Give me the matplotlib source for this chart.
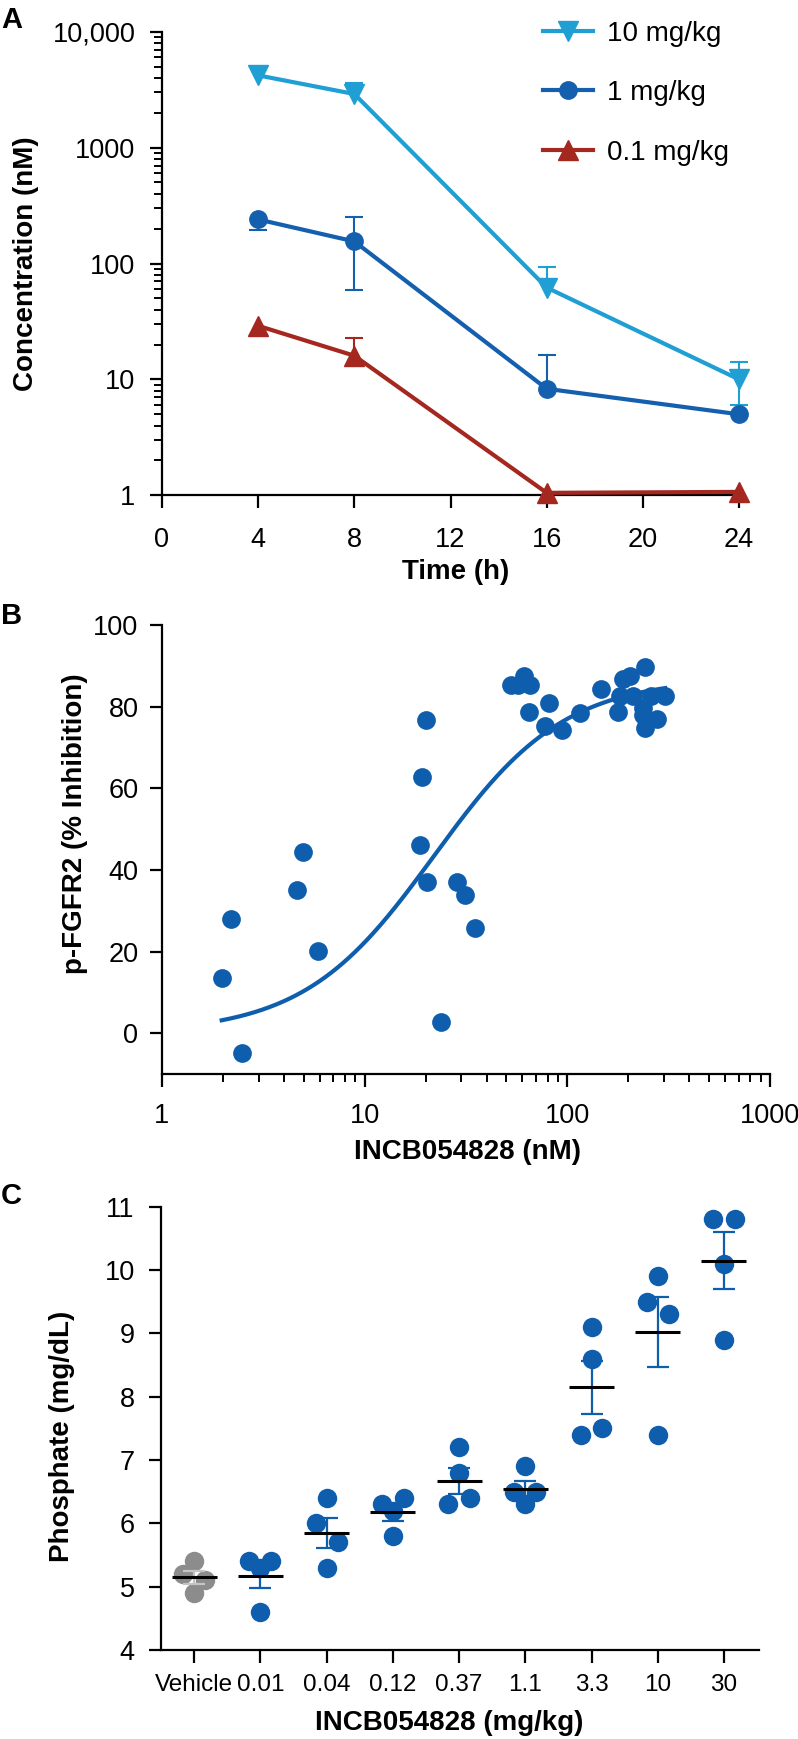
import numpy as np
import matplotlib.pyplot as plt
from matplotlib.ticker import FixedLocator, LogLocator, NullFormatter

plt.rcParams['font.family'] = ['Liberation Sans', 'DejaVu Sans']

# ---------------- data ----------------
# panel A : plasma concentration (nM) vs time
time_h = [4, 8, 16, 24]
conc_10 = [4200, 2900, 62, 10]
conc_10_hi = [0, 700, 31, 4]
conc_10_lo = [0, 0, 0, 4]
conc_1 = [240, 155, 8.3, 5.0]
conc_1_hi = [0, 98, 7.9, 0]
conc_1_lo = [44, 96, 0, 0]
conc_01 = [29, 16, 1.05, 1.07]
conc_01_hi = [0, 6.6, 0, 0]
conc_01_lo = [0, 0, 0, 0]

# panel B : p-FGFR2 inhibition vs plasma concentration
pk_nM = [1.97, 2.18, 2.49, 4.66, 4.94, 5.87, 20.0, 19.2, 18.7, 20.4, 23.7, 28.7,
         31.4, 34.9, 52.6, 57.4, 60.8, 65.6, 64.4, 77.5, 81.2, 93.8, 115, 147,
         177, 182, 188, 203, 211, 237, 241, 241, 258, 237, 277, 304]
inhib = [13.6, 28.0, -4.8, 35.0, 44.4, 20.1, 76.8, 62.8, 46.2, 37.0, 2.9, 37.0,
         34.0, 25.8, 85.4, 85.4, 87.6, 85.2, 78.8, 75.3, 80.8, 74.4, 78.4, 84.3,
         78.8, 82.7, 86.7, 87.6, 82.7, 79.7, 89.6, 74.9, 82.7, 77.9, 77.1, 82.6]
# 4-parameter logistic fit
fit_bottom, fit_top, fit_ec50, fit_hill = 0.0, 87.0, 22.0, 1.35

# panel C : serum phosphate per dose group
dose_labels = ['Vehicle', '0.01', '0.04', '0.12', '0.37', '1.1', '3.3', '10', '30']
phosphate = [
    [5.4, 5.2, 5.1, 4.9],
    [5.4, 5.4, 5.3, 4.6],
    [6.4, 6.0, 5.7, 5.3],
    [6.3, 6.4, 6.2, 5.8],
    [7.2, 6.8, 6.3, 6.4],
    [6.9, 6.5, 6.5, 6.3],
    [9.1, 8.6, 7.4, 7.5],
    [9.9, 9.5, 9.3, 7.4],
    [10.8, 10.8, 10.1, 8.9],
]
# dot-plot layout slots (beeswarm side of each dot)
swarm_slots = [
    [0, -1, 1, 0], [-1, 1, 0, 0], [0, -1, 1, 0], [-1, 1, 0, 0], [0, 0, -1, 1],
    [0, -1, 1, 0], [0, 0, -1, 1], [0, -1, 1, 0], [-1, 1, 0, 0],
]

# ---------------- style ----------------
c10, c1, c01 = '#1f9fd3', '#145fae', '#a4281f'
blue = '#0f5eae'
grey = '#8c8c8c'
FS = 19.5


def style_axes(ax, xpad, ypad):
    for s in ['top', 'right']:
        ax.spines[s].set_visible(False)
    for s in ['left', 'bottom']:
        ax.spines[s].set_linewidth(1.6)
    ax.tick_params(which='major', direction='out', length=9, width=1.6, labelsize=FS)
    ax.tick_params(which='minor', direction='out', length=5.5, width=1.4)
    ax.tick_params(axis='x', which='major', length=9.5, pad=xpad)
    ax.tick_params(axis='y', which='major', pad=ypad)


def set_labels(ax, xlabel, ylabel, xpos, ypos):
    ax.set_xlabel(xlabel, fontsize=FS + 0.5, fontweight='bold')
    ax.set_ylabel(ylabel, fontsize=FS + 0.5, fontweight='bold')
    ax.xaxis.label.set_verticalalignment('center')
    ax.yaxis.label.set_verticalalignment('center')
    ax.xaxis.set_label_coords(*xpos)
    ax.yaxis.set_label_coords(*ypos)


def draw_err(ax, x, y, lo, hi, color):
    for xi, yi, l, h in zip(x, y, lo, hi):
        ends = ([yi + h] if h > 0 else []) + ([yi - l] if l > 0 else [])
        for e in ends:
            ax.plot([xi, xi], [yi, e], color=color, lw=1.5, zorder=2, clip_on=False)
            ax.plot([xi], [e], marker='_', ms=13, mew=1.5, color=color, zorder=2, clip_on=False)


fig = plt.figure(figsize=(7.98, 17.39), dpi=100)
axA = fig.add_axes([0.2030, 0.71518, 0.7231, 0.26659])
axB = fig.add_axes([0.2030, 0.38223, 0.7619, 0.25837])
axC = fig.add_axes([0.2018, 0.05118, 0.7494, 0.25492])

# ---------------- panel A ----------------
series = [
    (conc_10, conc_10_lo, conc_10_hi, c10, 'v', 14, '10 mg/kg'),
    (conc_1, conc_1_lo, conc_1_hi, c1, 'o', 12.5, '1 mg/kg'),
    (conc_01, conc_01_lo, conc_01_hi, c01, '^', 14, '0.1 mg/kg'),
]
handles = []
for vals, lo, hi, col, mk, ms, lab in series:
    draw_err(axA, time_h, vals, lo, hi, col)
    h, = axA.plot(time_h, vals, color=col, lw=3, marker=mk, ms=ms, mec=col,
                  zorder=3, clip_on=False, label=lab)
    handles.append(h)
axA.set_yscale('log')
axA.set_ylim(1, 10000)
axA.set_xlim(0, 24)
axA.set_xticks([0, 4, 8, 12, 16, 20, 24])
axA.yaxis.set_major_locator(FixedLocator([1, 10, 100, 1000, 10000]))
axA.set_yticklabels(['1', '10', '100', '1000', '10,000'])
axA.yaxis.set_minor_locator(LogLocator(base=10, subs=np.arange(2, 10)))
axA.yaxis.set_minor_formatter(NullFormatter())
style_axes(axA, 13, 10)
set_labels(axA, 'Time (h)', 'Concentration (nM)', (0.508, -0.1665), (-0.2357, 0.5))
axA.legend(handles=handles, loc='upper left', bbox_to_anchor=(0.680, 0.9880),
           bbox_transform=fig.transFigure, frameon=False, fontsize=FS + 0.5,
           borderpad=0, borderaxespad=0, handlelength=1.8, handletextpad=0.5,
           labelspacing=1.2)

# ---------------- panel B ----------------
xfit = np.logspace(np.log10(min(pk_nM)), np.log10(max(pk_nM)), 300)
yfit = fit_bottom + (fit_top - fit_bottom) / (1 + (fit_ec50 / xfit) ** fit_hill)
axB.plot(xfit, yfit, color=blue, lw=3, zorder=2)
axB.plot(pk_nM, inhib, ls='none', marker='o', ms=13.5, color=blue, mec='none', zorder=3)
axB.set_xscale('log')
axB.set_xlim(1, 1000)
axB.set_ylim(-10, 100)
axB.xaxis.set_major_locator(FixedLocator([1, 10, 100, 1000]))
axB.set_xticklabels(['1', '10', '100', '1000'])
axB.xaxis.set_minor_locator(LogLocator(base=10, subs=np.arange(2, 10)))
axB.xaxis.set_minor_formatter(NullFormatter())
axB.set_yticks([0, 20, 40, 60, 80, 100])
style_axes(axB, 11, 8)
set_labels(axB, 'INCB054828 (nM)', 'p-FGFR2 (% Inhibition)', (0.503, -0.173), (-0.143, 0.557))

# ---------------- panel C ----------------
step = 0.165
for i, (vals, slots) in enumerate(zip(phosphate, swarm_slots)):
    col = grey if i == 0 else blue
    ecol = '#c4c4c4' if i == 0 else blue
    v = np.asarray(vals)
    m = v.mean()
    sem = v.std(ddof=1) / np.sqrt(len(v))
    xs = i + step * np.asarray(slots)
    axC.plot(xs, v, ls='none', marker='o', ms=14, color=col, mec='none', zorder=2)
    axC.errorbar([i], [m], yerr=[sem], fmt='none', ecolor=ecol, elinewidth=1.6,
                 capsize=8, capthick=1.6, zorder=3)
    axC.hlines(m, i - 0.34, i + 0.34, color='black', lw=2.2, zorder=4)
axC.set_xlim(-0.5, 8.53)
axC.set_ylim(4, 11)
axC.set_xticks(range(len(dose_labels)))
axC.set_xticklabels(dose_labels)
axC.set_yticks(range(4, 12))
style_axes(axC, 8, 10)
axC.tick_params(axis='x', labelsize=17.5)
set_labels(axC, 'INCB054828 (mg/kg)', 'Phosphate (mg/dL)', (0.482, -0.165), (-0.1656, 0.483))

# panel letters
for letter, ypx in [('A', 20), ('B', 616), ('C', 1196)]:
    fig.text(0.001, 1 - ypx / 1739, letter, fontsize=FS + 1.5, fontweight='bold',
             ha='left', va='center')

fig.savefig('out.png', dpi=100)
